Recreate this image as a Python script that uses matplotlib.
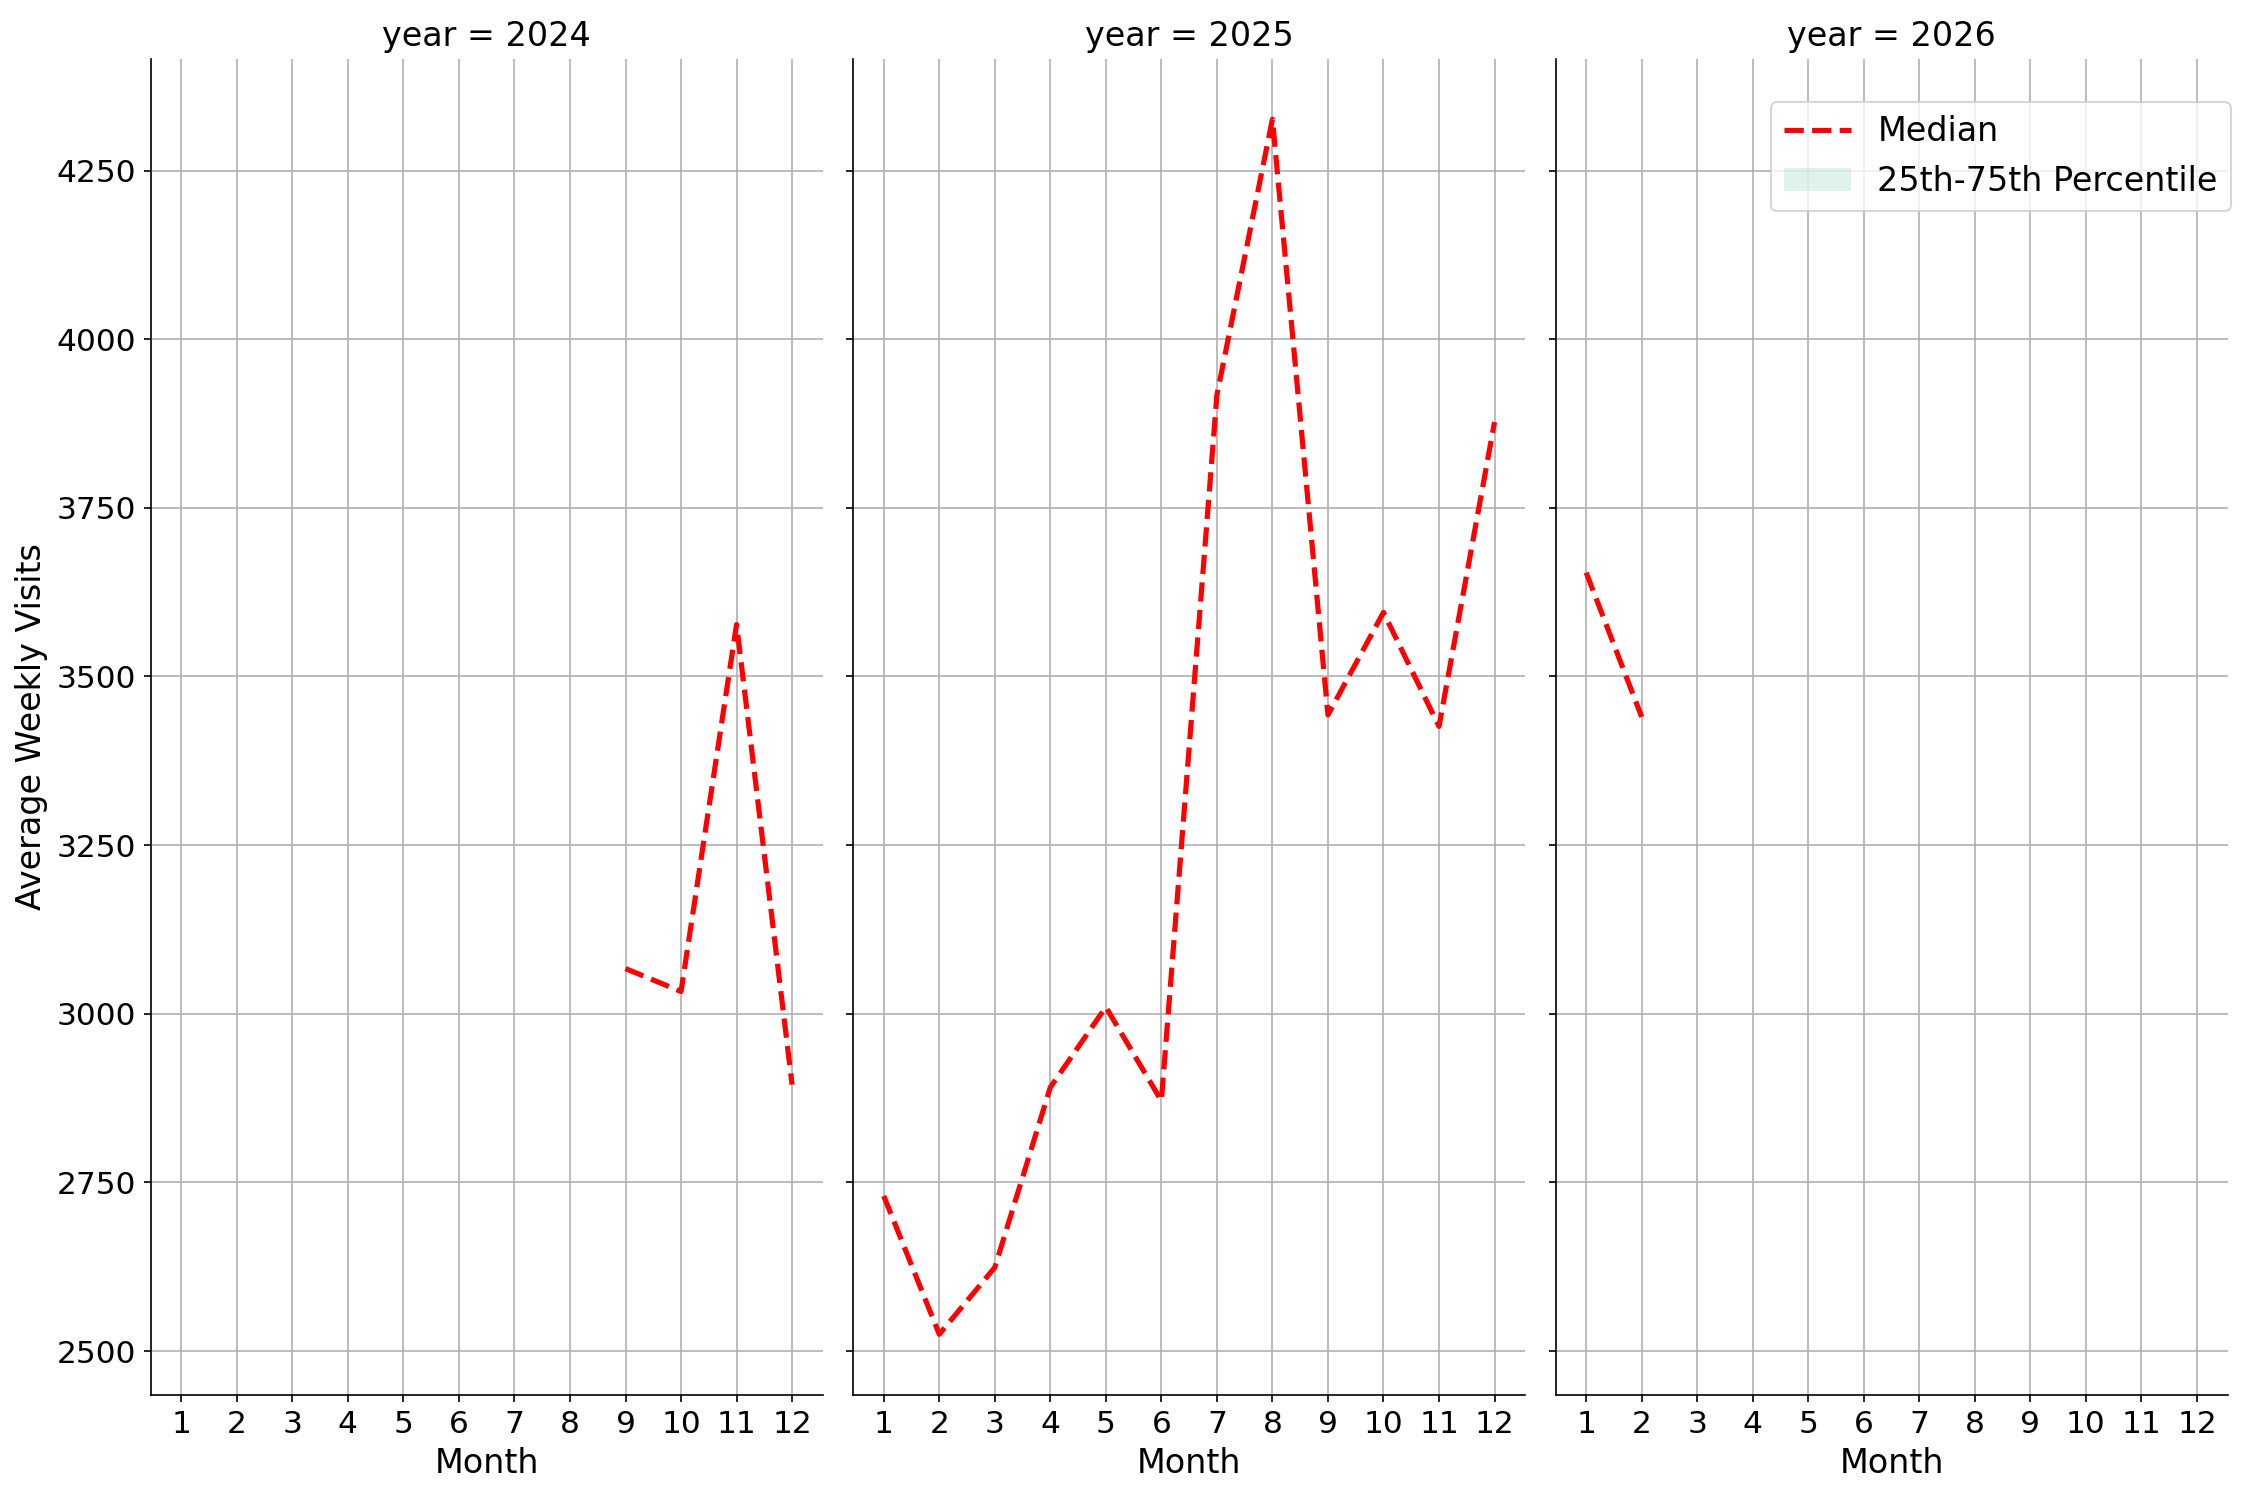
import numpy as np
import matplotlib
matplotlib.use("Agg")
import matplotlib.pyplot as plt

# monthly medians, per year
years = [2024, 2025, 2026]
months_2024 = [9, 10, 11, 12]
median_2024 = [3067, 3033, 3577, 2895]
months_2025 = [1, 2, 3, 4, 5, 6, 7, 8, 9, 10, 11, 12]
median_2025 = [2730, 2525, 2624, 2891, 3010, 2871, 3917, 4326, 3443, 3595, 3426, 3877]
months_2026 = [1, 2]
median_2026 = [3654, 3440]
# quartiles collapse onto the median (band has no visible width)
q25_2024, q75_2024 = median_2024, median_2024
q25_2025, q75_2025 = median_2025, median_2025
q25_2026, q75_2026 = median_2026, median_2026

series = {
    2024: (months_2024, median_2024, q25_2024, q75_2024),
    2025: (months_2025, median_2025, q25_2025, q75_2025),
    2026: (months_2026, median_2026, q25_2026, q75_2026),
}
month_ticks = list(range(1, 13))

fig, axes = plt.subplots(1, 3, figsize=(15, 10), dpi=150, sharex=True, sharey=True)
fig.subplots_adjust(left=0.067, right=0.990, top=0.961, bottom=0.070, wspace=0.0455)

for ax, yr in zip(axes, years):
    m, med, lo, hi = series[yr]
    ax.fill_between(m, lo, hi, color="#66c2a5", alpha=0.2, linewidth=0,
                    label="25th-75th Percentile")
    ax.plot(m, med, color="red", linestyle="--", linewidth=2.5, label="Median")
    ax.set_title(f"year = {yr}", fontsize=16)
    ax.set_xlabel("Month", fontsize=16)
    ax.set_xticks(month_ticks)
    ax.tick_params(labelsize=15)
    ax.grid(True)
    ax.spines["top"].set_visible(False)
    ax.spines["right"].set_visible(False)

axes[0].set_xlim(0.45, 12.55)
axes[0].set_ylabel("Average Weekly Visits", fontsize=16)

h, l = axes[2].get_legend_handles_labels()
fig.legend([h[1], h[0]], [l[1], l[0]], loc="upper right",
           bbox_to_anchor=(0.9916, 0.932), borderaxespad=0, fontsize=16)

fig.savefig("out.png", dpi=150)
